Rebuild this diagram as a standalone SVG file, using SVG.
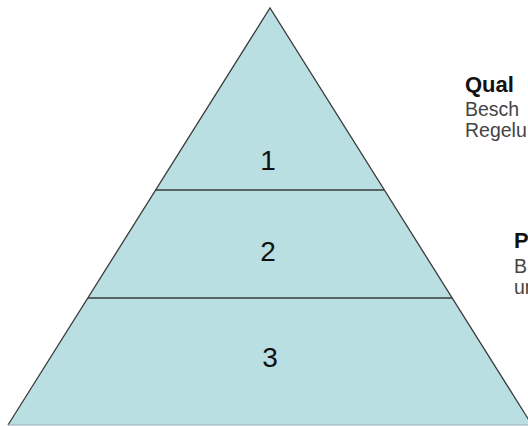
<svg xmlns="http://www.w3.org/2000/svg" width="528" height="426" viewBox="0 0 528 426">
<style>
.tier{fill:#b9dfe2;stroke:none}
.edge{stroke:#3a3a3a;stroke-width:1.3;fill:none}
.num{font-family:"Liberation Sans",Arial,sans-serif;font-size:28px;fill:#111;text-anchor:middle}
.h{font-family:"Liberation Sans",Arial,sans-serif;font-size:22px;font-weight:bold;fill:#111}
.d{font-family:"Liberation Sans",Arial,sans-serif;font-size:19.5px;fill:#444}
</style>
<rect width="528" height="426" fill="#fff"/>
<g id="tier1">
<polygon class="tier" points="270,8 384,190 156,190"/>
<text class="num" x="268" y="170">1</text>
</g>
<g id="tier2">
<polygon class="tier" points="156,190 384,190 452,298 88,298"/>
<text class="num" x="268" y="261">2</text>
</g>
<g id="tier3">
<polygon class="tier" points="88,298 452,298 532,425 8,425"/>
<text class="num" x="270" y="367">3</text>
</g>
<g id="connectors">
<polyline class="edge" points="8,425 270,8 532,425"/>
<line class="edge" x1="156" y1="190" x2="384" y2="190"/>
<line class="edge" x1="88" y1="298" x2="452" y2="298"/>
<line x1="8" y1="425" x2="528" y2="425" stroke="#9ab" stroke-width="1"/>
</g>
<g id="label1">
<text class="h" x="465" y="92">Qual</text>
<text class="d" x="465" y="116">Besch</text>
<text class="d" x="465" y="137">Regelu</text>
</g>
<g id="label2">
<text class="h" x="514" y="248">P</text>
<text class="d" x="514" y="273">B</text>
<text class="d" x="514" y="294">un</text>
</g>
</svg>
